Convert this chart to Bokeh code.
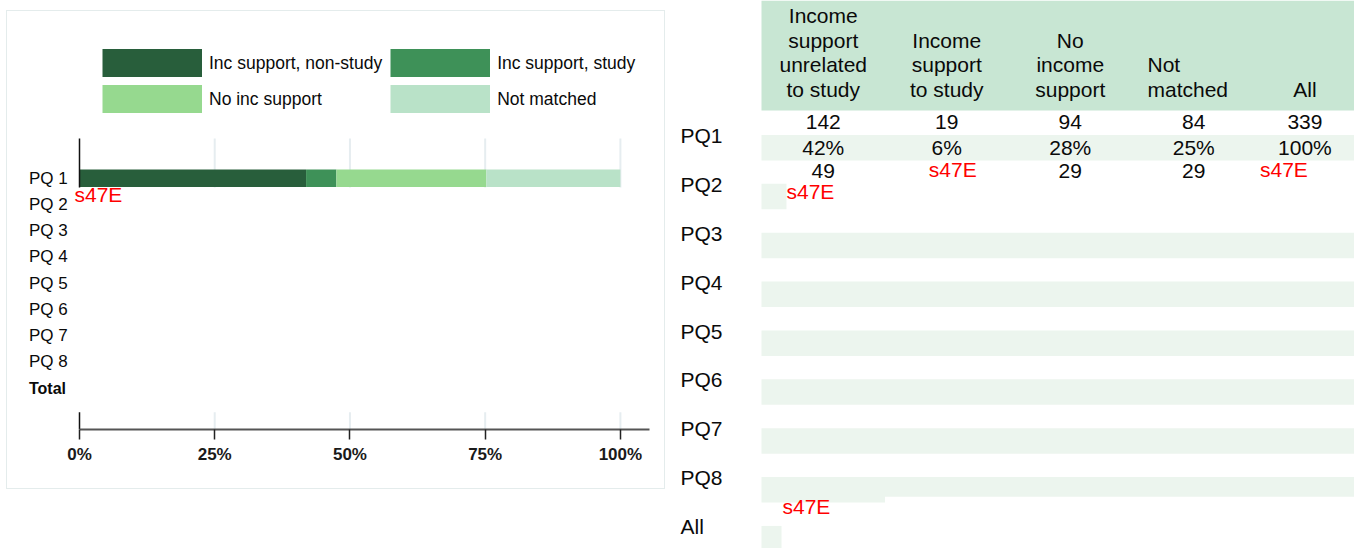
from bokeh.plotting import figure
from bokeh.models import (ColumnDataSource, Range1d, LinearAxis, FixedTicker, Spacer,
                          NumeralTickFormatter, Legend, LegendItem, GlobalInlineStyleSheet)
from bokeh.layouts import row, column
from bokeh.core.properties import value, field
from bokeh.embed import file_html
from bokeh.resources import INLINE

FONT = "Liberation Sans"
NAN = float("nan")
INK = "#0a0a0a"

# ---------------- data ----------------
chart_rows = ["PQ 1", "PQ 2", "PQ 3", "PQ 4", "PQ 5", "PQ 6", "PQ 7", "PQ 8", "Total"]
series_labels = ["Inc support, non-study", "Inc support, study", "No inc support", "Not matched"]
series_colors = ["#285e3b", "#3e9158", "#96d98f", "#b9e2c8"]
pq1_counts = [142, 19, 94, 84]
pq1_total = 339
x_ticks = [0, 0.25, 0.5, 0.75, 1.0]

table_rows = ["PQ1", "PQ2", "PQ3", "PQ4", "PQ5", "PQ6", "PQ7", "PQ8", "All"]
table_headers = ["Income\nsupport\nunrelated\nto study", "Income\nsupport\nto study",
                 "No\nincome\nsupport", "Not\nmatched", "All"]
pq1_row = [142, 19, 94, 84, 339]
pq2_row = ["49", "s47E", "29", "29", "s47E"]
SUPPRESSED = "s47E"

# ---------------- left chart ----------------
L_W, L_H = 659, 479            # canvas incl. the 1px border drawn over its edge
CX, CY = 6, 10                 # page position of the canvas
PX = 540.9                     # pixels per 100%
x_start = (CX - 78) / PX
x_end = x_start + L_W / PX
ROWPX = 26.25
y_top = (CY - 176.7) / ROWPX
y_bot = (428 - 176.7) / ROWPX

left = figure(width=L_W, height=L_H, x_range=Range1d(x_start, x_end),
              y_range=Range1d(y_bot, y_top), x_axis_type=None, y_axis_type=None,
              output_backend="svg", toolbar_location=None,
              min_border_left=0, min_border_right=0, min_border_top=0,
              min_border_bottom=L_H - (428 - CY))
left.outline_line_color = None
left.background_fill_color = "white"
left.border_fill_color = "white"
left.styles = {"border": "1px solid #e4ecec"}

pane_top, pane_bot = -1.51, 0.35
stub_top = (410.7 - 176.7) / ROWPX
# light gridlines in the bar pane and the axis pane
left.segment(x0=x_ticks[1:], x1=x_ticks[1:], y0=[pane_top] * 4, y1=[pane_bot] * 4,
             line_color="#e6edf0", line_width=2)
left.segment(x0=x_ticks[1:], x1=x_ticks[1:], y0=[stub_top] * 4, y1=[y_bot] * 4,
             line_color="#e6edf0", line_width=2)

fr = [c / pq1_total for c in pq1_counts]
keys = [f"s{i}" for i in range(len(series_labels))]
src = ColumnDataSource(dict(y=[0], **{k: [v] for k, v in zip(keys, fr)}))
rs = left.hbar_stack(keys, y="y", height=0.663, color=series_colors, source=src, line_width=0)

# pane y-axis lines at 0
left.segment(x0=[0, 0], x1=[0, 0], y0=[pane_top, stub_top], y1=[pane_bot, y_bot],
             line_color="#111111", line_width=1.5)

xaxis = LinearAxis(ticker=FixedTicker(ticks=x_ticks), formatter=NumeralTickFormatter(format="0%"),
                   bounds=(0, (648 - 78) / PX))
xaxis.axis_line_color = "#555555"
xaxis.axis_line_width = 2
xaxis.major_tick_in = 0
xaxis.major_tick_out = 10
xaxis.major_tick_line_color = "#222222"
xaxis.major_tick_line_width = 1.5
xaxis.minor_tick_line_color = None
xaxis.major_label_text_font = FONT
xaxis.major_label_text_font_size = "17px"
xaxis.major_label_text_font_style = "bold"
xaxis.major_label_text_color = "#1a1a1a"
xaxis.major_label_standoff = 5
left.add_layout(xaxis, "below")

lab_src = ColumnDataSource(dict(
    x=[(27.5 - 78) / PX] * len(chart_rows), y=list(range(len(chart_rows))), t=chart_rows,
    size=["17px"] * (len(chart_rows) - 1) + ["16px"],
    style=["normal"] * (len(chart_rows) - 1) + ["bold"]))
left.text(x="x", y="y", text="t", source=lab_src, text_font=value(FONT),
          text_font_size=field("size"), text_font_style=field("style"),
          text_color=INK, text_align="left", text_baseline="middle")

left.text(x=[0], y=[0.62], text=[SUPPRESSED], x_offset=-5, text_font=value(FONT),
          text_font_size="21px", text_color="#ff0000", text_align="left", text_baseline="middle")

# legend swatches: thick butt-capped strokes give exact solid blocks (no visible data)
swatches = [left.line(x=[NAN], y=[NAN], line_color=c, line_width=29, line_cap="butt")
            for c in series_colors]
legend = Legend(items=[LegendItem(label=lab, renderers=[r]) for lab, r in zip(series_labels, swatches)],
                ncols=2, orientation="horizontal", location=(101 - CX, 428 - 112),
                glyph_width=100, glyph_height=28, label_standoff=7, spacing=8, padding=0,
                margin=0, border_line_color=None, background_fill_alpha=0,
                label_text_font=FONT, label_text_font_size="17.5px", label_text_color=INK)
left.add_layout(legend)

# ---------------- right table ----------------
R_W, R_H = 689, 548
COL = 123.5
rx_start = (665 - 761) / COL
rx_end = rx_start + R_W / COL
RROW = 48.875
ry_top = (0 - 135) / RROW
ry_bot = (548 - 135) / RROW

right = figure(width=R_W, height=R_H, x_range=Range1d(rx_start, rx_end),
               y_range=Range1d(ry_bot, ry_top), x_axis_type=None, y_axis_type=None,
               output_backend="svg", toolbar_location=None,
               min_border_left=0, min_border_right=0, min_border_top=0, min_border_bottom=0)
right.outline_line_color = None
right.background_fill_color = "white"
right.border_fill_color = "white"

col_widths = [1, 1, 1, 1, 0.8]
col_left = [sum(col_widths[:i]) for i in range(len(col_widths))]
col_center = [l + w / 2 for l, w in zip(col_left, col_widths)]
head_bottom = (110 - 135) / RROW

# header band
right.quad(left=[0], right=[rx_end], top=[ry_top], bottom=[head_bottom],
           fill_color="#c8e6d3", line_width=0)

# row stripes (percent lines)
stripe_right = [rx_end, 0.2024, rx_end, rx_end, rx_end, rx_end, rx_end, 1.0, 0.162]
nr = len(table_rows)
right.quad(left=[0] * nr, right=stripe_right, top=[r - 0.012 for r in range(nr)],
           bottom=[r + 0.51 for r in range(nr)], fill_color="#ecf5ee", line_width=0)
right.quad(left=[1.0], right=[rx_end], top=[7 - 0.012], bottom=[7 + 0.39],
           fill_color="#ecf5ee", line_width=0)

# header text
hx, hy, ht, ha = [], [], [], []
head_last = (89 - 135) / RROW
align = ["center", "center", "center", "left", "center"]
for j, h in enumerate(table_headers):
    lines = h.split("\n")
    n = len(lines)
    for k, ln in enumerate(lines):
        hx.append(col_center[j] if align[j] == "center" else col_left[j] + 0.1255)
        hy.append(head_last - (n - 1 - k) * 0.5013)
        ht.append(ln)
        ha.append(align[j])
right.text(x="x", y="y", text="t", text_align="a",
           source=ColumnDataSource(dict(x=hx, y=hy, t=ht, a=ha)),
           text_font=value(FONT), text_font_size="21px", text_color=INK,
           text_baseline="middle")

# row labels
right.text(x=[(680 - 761) / COL] * nr, y=list(range(nr)), text=table_rows,
           text_font=value(FONT), text_font_size="21px", text_color=INK,
           text_align="left", text_baseline="middle")

# PQ1 counts and percentages
right.text(x=col_center, y=[0 - 0.27] * 5, text=[str(v) for v in pq1_row],
           text_font=value(FONT), text_font_size="21px", text_color=INK,
           text_align="center", text_baseline="middle")
pcts = [f"{round(100 * v / pq1_row[-1])}%" for v in pq1_row]
right.text(x=col_center, y=[0 + 0.252] * 5, text=pcts,
           text_font=value(FONT), text_font_size="21px", text_color=INK,
           text_align="center", text_baseline="middle")

# PQ2 counts
ok = [i for i, v in enumerate(pq2_row) if v != SUPPRESSED]
bad = [i for i, v in enumerate(pq2_row) if v == SUPPRESSED]
right.text(x=[col_center[i] for i in ok], y=[1 - 0.27] * len(ok), text=[pq2_row[i] for i in ok],
           text_font=value(FONT), text_font_size="21px", text_color=INK,
           text_align="center", text_baseline="middle")
right.text(x=[col_center[i] for i in bad], y=[1 - 0.3] * len(bad), text=[pq2_row[i] for i in bad],
           x_offset=[6, -21], text_font=value(FONT), text_font_size="21px", text_color="#ff0000",
           text_align="center", text_baseline="middle")
# stray suppression markers
right.text(x=[0.2024, 0.17], y=[1 + 0.139, 8 - 0.409], text=[SUPPRESSED, SUPPRESSED],
           text_font=value(FONT), text_font_size="21px", text_color="#ff0000",
           text_align="left", text_baseline="middle")

left_col = column(Spacer(width=L_W, height=CY), left, Spacer(width=L_W, height=548 - CY - L_H),
                  width=L_W, height=548)
lay = row(Spacer(width=CX, height=548), left_col, right, width=1354, height=548)
lay.stylesheets = [GlobalInlineStyleSheet(css="html, body { margin: 0 !important; padding: 0; overflow: hidden; }")]

open("out.html", "w").write(file_html(lay, INLINE))
